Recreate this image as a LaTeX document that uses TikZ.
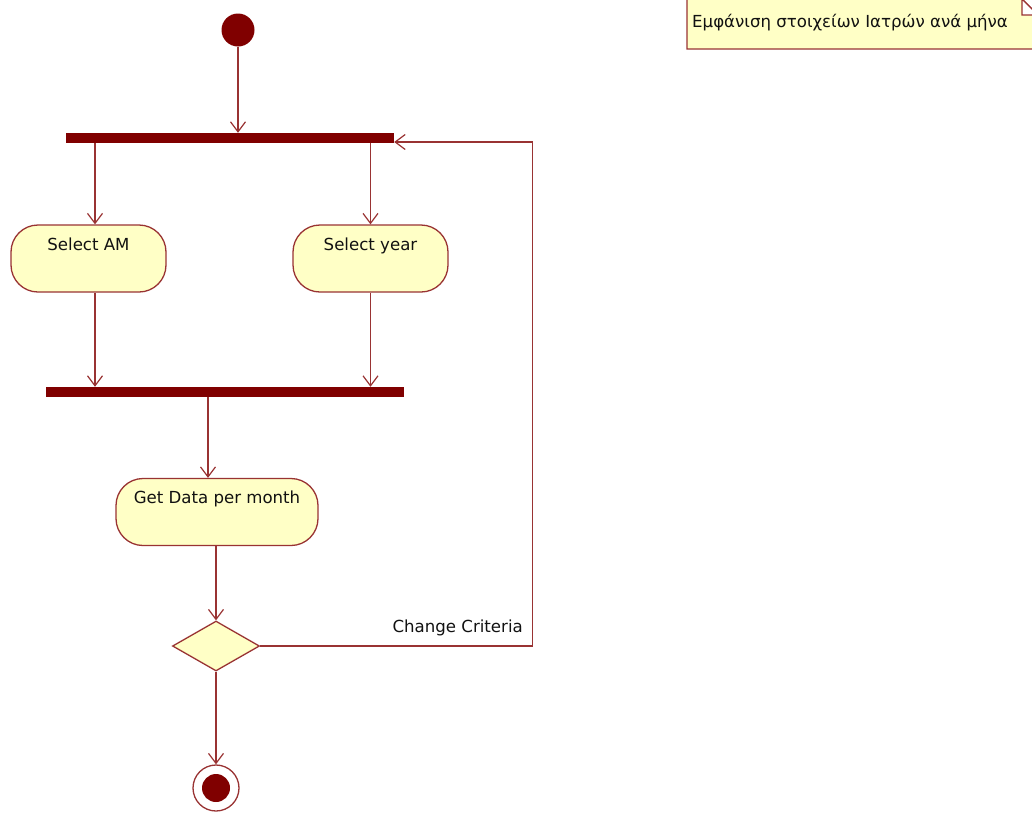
\documentclass[tikz,border=0pt]{standalone}
\usepackage{fontspec}
\setmainfont{DejaVu Sans}
\usetikzlibrary{arrows.meta,shapes.geometric}
\definecolor{barc}{HTML}{800000}
\definecolor{edgec}{HTML}{993333}
\definecolor{linec}{HTML}{993333}
\definecolor{actfill}{HTML}{FFFFC6}
\definecolor{txtc}{HTML}{111111}
\tikzset{
  flow/.style={draw=linec, line width=1.3pt,
    -{Straight Barb[length=10pt,width=15pt,line width=1.2pt]}},
  bar/.style={rectangle, fill=barc, draw=none, minimum height=10pt, inner sep=0pt},
  action/.style={rectangle, draw=edgec, fill=actfill, line width=1.3pt,
    rounded corners=27pt, minimum height=67pt, inner xsep=0pt, inner ysep=0pt,
    text height=25pt, text depth=42pt, text=txtc, font=\fontsize{16.6}{19}\selectfont},
  decision/.style={diamond, draw=edgec, fill=actfill, line width=1.3pt, inner sep=0pt,
    minimum width=87pt, minimum height=50pt},
  lbl/.style={text=txtc, inner sep=0pt, font=\fontsize{16.6}{19}\selectfont}
}
\begin{document}
\begin{tikzpicture}[x=1pt,y=-1pt]
\useasboundingbox (0,0) rectangle (1032,812);

% initial node and fork
\node[circle, fill=barc, minimum size=33pt, inner sep=0pt] (start) at (238,30) {};
\node[bar, minimum width=328pt] (fork) at (230,138) {};

% parallel actions
\node[action, minimum width=155pt] (am) at (88.5,258.5) {Select AM};
\node[action, minimum width=155pt] (year) at (370.5,258.5) {Select year};

% join and follow-up action
\node[bar, minimum width=358pt] (join) at (225,392) {};
\node[action, minimum width=202pt] (data) at (217,512) {Get Data per month};

% decision and final node
\node[decision] (dec) at (216,646) {};
\node[circle, draw=edgec, fill=white, line width=1.3pt, minimum size=46pt, inner sep=0pt] (final) at (216,788) {};
\node[circle, fill=barc, minimum size=28pt, inner sep=0pt] (finaldot) at (final) {};

% control flows
\draw[flow] (start) -- (start |- fork.north);
\draw[flow] ([xshift=6.5]am.north |- fork.south) -- ([xshift=6.5]am.north);
\draw[flow] (year.north |- fork.south) -- (year.north);
\draw[flow] ([xshift=6.5]am.south) -- ([xshift=6.5]am.south |- join.north);
\draw[flow] (year.south) -- (year.south |- join.north);
\draw[flow] ([xshift=-9]data.north |- join.south) -- ([xshift=-9]data.north);
\draw[flow] (dec.north |- data.south) -- (dec.north);
\draw[flow] (dec.south) -- (final.north);

% loop back to the fork
\coordinate (loopB) at (532.5,647);
\coordinate (loopT) at (532.5,142);
\draw[flow] (dec.east) -- (dec.east -| loopB) -- (loopT) -- (fork.east |- loopT);
\node[lbl, anchor=base east] (crit) at (523,632) {Change Criteria};

% note with folded corner
\draw[edgec, fill=actfill, line width=1.3pt]
  (687,49) -- (687,-1) -- (1022,-1) -- (1040,17) -- (1040,49) -- cycle;
\draw[edgec, fill=white, line width=1.3pt] (1022,-1) -- (1022,15) -- (1038,15) -- cycle;
\node[lbl, anchor=base west] (note) at (692,27) {Εμφάνιση στοιχείων Ιατρών ανά μήνα};
\end{tikzpicture}
\end{document}
